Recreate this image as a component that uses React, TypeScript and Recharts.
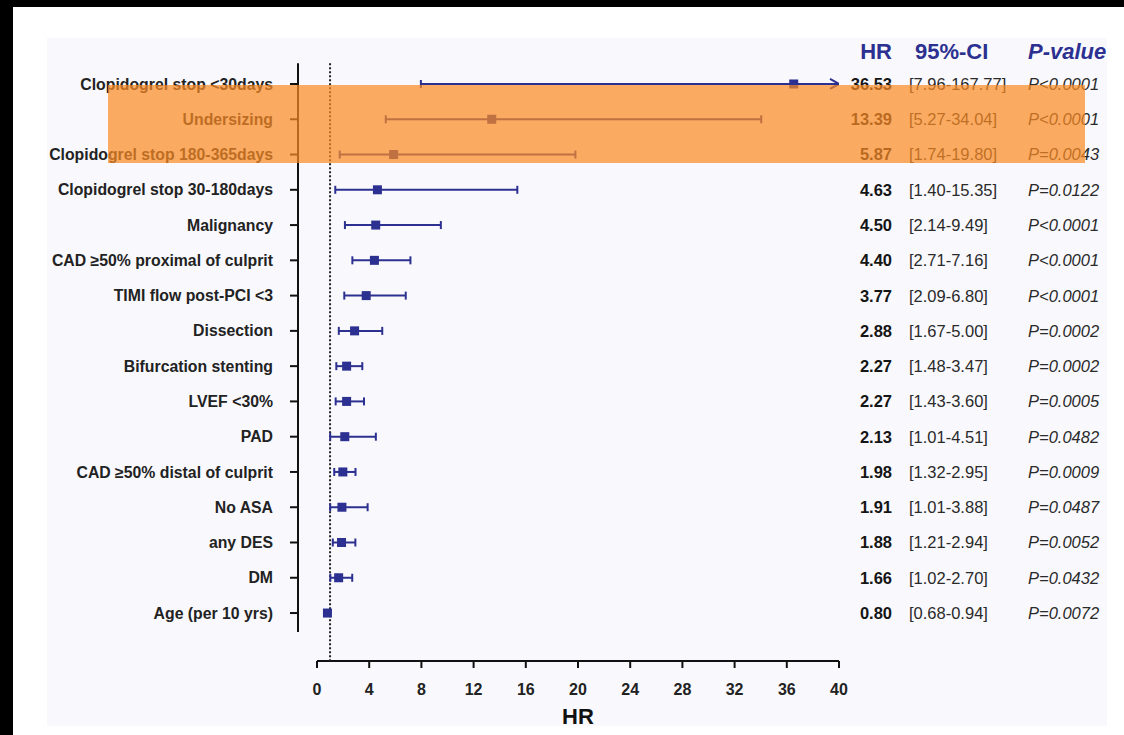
import React from 'react';
import { ScatterChart, Scatter, XAxis, YAxis, ErrorBar, ReferenceLine } from 'recharts';

const labels = [
  'Clopidogrel stop <30days',
  'Undersizing',
  'Clopidogrel stop 180-365days',
  'Clopidogrel stop 30-180days',
  'Malignancy',
  'CAD ≥50% proximal of culprit',
  'TIMI flow post-PCI <3',
  'Dissection',
  'Bifurcation stenting',
  'LVEF <30%',
  'PAD',
  'CAD ≥50% distal of culprit',
  'No ASA',
  'any DES',
  'DM',
  'Age (per 10 yrs)',
];
const hazardRatios = [36.53, 13.39, 5.87, 4.63, 4.5, 4.4, 3.77, 2.88, 2.27, 2.27, 2.13, 1.98, 1.91, 1.88, 1.66, 0.8];
const ciLow = [7.96, 5.27, 1.74, 1.4, 2.14, 2.71, 2.09, 1.67, 1.48, 1.43, 1.01, 1.32, 1.01, 1.21, 1.02, 0.68];
const ciHigh = [167.77, 34.04, 19.8, 15.35, 9.49, 7.16, 6.8, 5.0, 3.47, 3.6, 4.51, 2.95, 3.88, 2.94, 2.7, 0.94];
const pValues = [
  'P<0.0001', 'P<0.0001', 'P=0.0043', 'P=0.0122', 'P<0.0001', 'P<0.0001', 'P<0.0001', 'P=0.0002',
  'P=0.0002', 'P=0.0005', 'P=0.0482', 'P=0.0009', 'P=0.0487', 'P=0.0052', 'P=0.0432', 'P=0.0072',
];
const xTicks = [0, 4, 8, 12, 16, 20, 24, 28, 32, 36, 40];

const X_MAX = 40;
const X_DOMAIN: [number, number] = [-1.456, X_MAX];
const Y_DOMAIN: [number, number] = [-0.51, 16.36];
const NAVY = '#2c3090';
const FONT = '"Liberation Sans", Arial, Helvetica, sans-serif';
const NARROW = '"Liberation Sans Narrow", "Arial Narrow", "Liberation Sans", Arial, sans-serif';

const rows = labels.map((label, i) => ({
  row: i,
  label,
  hr: hazardRatios[i],
  lo: ciLow[i],
  hi: ciHigh[i],
}));
// CIs running past the axis end get an arrow at the axis maximum
const arrows = rows.filter((r) => r.hi > X_MAX).map((r) => ({ row: r.row, hr: X_MAX, from: r.hr }));

const Square = ({ cx, cy }: any) => <rect x={cx - 4.5} y={cy - 4.5} width={9} height={9} fill={NAVY} />;

const Arrow = ({ cx, cy }: any) => (
  <path d={`M${cx - 9},${cy - 5} L${cx},${cy} L${cx - 9},${cy + 5}`} fill="none" stroke={NAVY} strokeWidth={2} />
);

const StatsTick = ({ x, y, payload }: any) => {
  const i = payload.value;
  if (rows[i] === undefined) return null;
  const r = rows[i];
  return (
    <g fontFamily={FONT} fontSize={16.5}>
      <text x={x + 53} y={y} dy="0.36em" textAnchor="end" fontWeight="bold" fill="#151515">
        {r.hr.toFixed(2)}
      </text>
      <text x={x + 70} y={y} dy="0.36em" fill="#2a2a2a">
        {`[${r.lo.toFixed(2)}-${r.hi.toFixed(2)}]`}
      </text>
      <text x={x + 189} y={y} dy="0.36em" fontStyle="italic" fill="#2a2a2a">
        {pValues[i]}
      </text>
    </g>
  );
};

const headerStyle: React.CSSProperties = {
  position: 'absolute',
  top: 38,
  fontFamily: FONT,
  fontSize: 22,
  fontWeight: 'bold',
  color: NAVY,
  lineHeight: '28px',
};

export default function App() {
  return (
    <div style={{ position: 'absolute', left: 0, top: 0, width: 1124, height: 735, background: '#000', overflow: 'hidden' }}>
      <div style={{ position: 'absolute', left: 13, top: 7, width: 1111, height: 728, background: '#fff' }} />
      <div style={{ position: 'absolute', left: 47, top: 38, width: 1060, height: 688, background: '#f9f9fd' }} />
      <div style={{ position: 'absolute', left: 0, top: 0 }}>
        <ScatterChart width={1124} height={735} margin={{ top: 66, right: 15, bottom: 14, left: 48 }}>
          <XAxis
            type="number"
            dataKey="hr"
            domain={X_DOMAIN}
            allowDataOverflow
            ticks={xTicks}
            interval={0}
            axisLine={false}
            tickLine={{ stroke: '#111', strokeWidth: 2 }}
            tickSize={7}
            tickMargin={16}
            height={60}
            tick={{ fontSize: 16, fontWeight: 'bold', fill: '#222', fontFamily: NARROW }}
          />
          <YAxis
            type="number"
            dataKey="row"
            domain={Y_DOMAIN}
            allowDataOverflow
            reversed
            ticks={rows.map((r) => r.row)}
            interval={0}
            width={250}
            axisLine={false}
            tickLine={{ stroke: '#111', strokeWidth: 2 }}
            tickSize={8}
            tickMargin={17}
            tickFormatter={(v: number) => labels[v] ?? ''}
            tick={{ fontSize: 15.8, fontWeight: 'bold', fill: '#222', fontFamily: FONT }}
          />
          <YAxis
            yAxisId="stats"
            orientation="right"
            type="number"
            domain={Y_DOMAIN}
            allowDataOverflow
            reversed
            ticks={rows.map((r) => r.row)}
            interval={0}
            width={270}
            axisLine={false}
            tickLine={false}
            tickSize={0}
            tickMargin={0}
            tick={<StatsTick />}
          />
          {/* detached axis lines and the HR = 1 line */}
          <ReferenceLine
            segment={[{ x: X_DOMAIN[0], y: -0.59 }, { x: X_DOMAIN[0], y: 15.54 }]}
            stroke="#111"
            strokeWidth={2}
            ifOverflow="visible"
          />
          <ReferenceLine
            segment={[{ x: 0, y: Y_DOMAIN[1] }, { x: X_MAX, y: Y_DOMAIN[1] }]}
            stroke="#111"
            strokeWidth={2}
            ifOverflow="visible"
          />
          <ReferenceLine
            segment={[{ x: 1, y: -0.59 }, { x: 1, y: Y_DOMAIN[1] }]}
            stroke="#222"
            strokeWidth={2}
            strokeDasharray="2 2"
            ifOverflow="visible"
          />
          <Scatter data={rows} shape={<Square />} isAnimationActive={false}>
            <ErrorBar
              direction="x"
              dataKey={(d: any) => [d.hr - d.lo, d.hi > X_MAX ? 0 : d.hi - d.hr]}
              width={4}
              stroke={NAVY}
              strokeWidth={2}
              isAnimationActive={false}
            />
          </Scatter>
          <Scatter data={arrows} shape={<Arrow />} isAnimationActive={false}>
            <ErrorBar
              direction="x"
              dataKey={(d: any) => [d.hr - d.from, 0]}
              width={0}
              stroke={NAVY}
              strokeWidth={2}
              isAnimationActive={false}
            />
          </Scatter>
        </ScatterChart>
      </div>
      <div style={{ ...headerStyle, left: 852, width: 40, textAlign: 'right' }}>HR</div>
      <div style={{ ...headerStyle, left: 915 }}>95%-CI</div>
      <div style={{ ...headerStyle, left: 1028, fontStyle: 'italic' }}>P-value</div>
      <div
        style={{
          position: 'absolute',
          left: 317,
          width: 522,
          top: 703,
          textAlign: 'center',
          fontFamily: FONT,
          fontSize: 22,
          fontWeight: 'bold',
          color: '#111',
          lineHeight: '28px',
        }}
      >
        HR
      </div>
      <div
        style={{
          position: 'absolute',
          left: 108,
          top: 85,
          width: 977,
          height: 78,
          background: 'rgba(250, 139, 36, 0.72)',
          pointerEvents: 'none',
        }}
      />
    </div>
  );
}
